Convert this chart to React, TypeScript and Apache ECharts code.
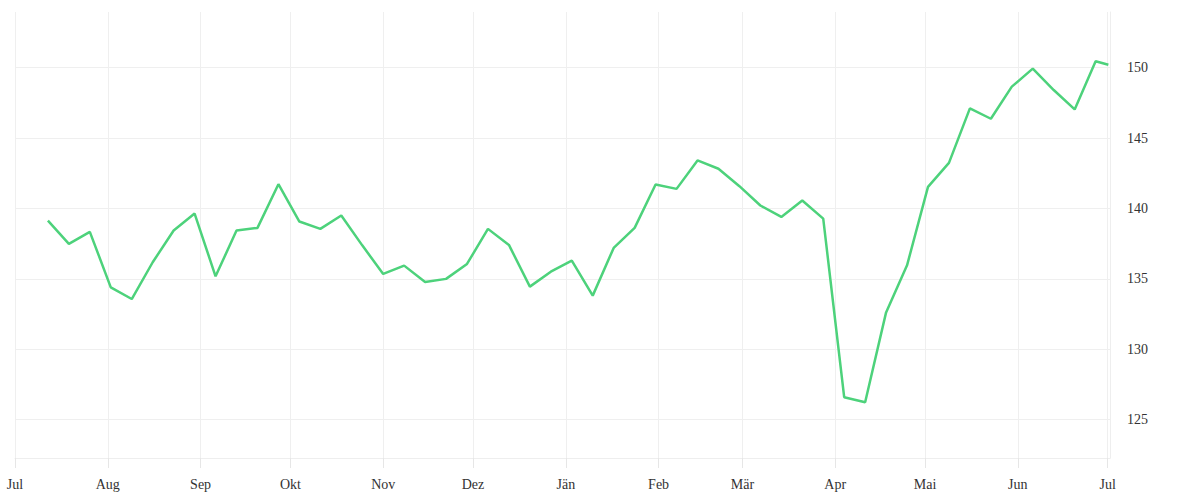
import React, { useEffect, useRef } from "react";
import * as echarts from "echarts";

const startDate = "2022-07-12";
const values: number[] = [
  139.14, 137.48, 138.34, 134.4, 133.57, 136.18, 138.43, 139.64, 135.18, 138.43,
  138.62, 141.72, 139.07, 138.55, 139.5, 137.38, 135.35, 135.94, 134.78, 135.0,
  136.06, 138.55, 137.41, 134.45, 135.51, 136.29, 133.81, 137.2, 138.62, 141.7,
  141.39, 143.41, 142.82, 141.58, 140.21, 139.4, 140.56, 139.28, 126.6, 126.24,
  132.62, 135.96, 141.53, 143.24, 147.11, 146.37, 148.65, 149.93, 148.41, 147.03,
  150.45,
];
const lastDate = "2023-07-01";
const lastValue = 150.21;

const monthTicks: string[] = [
  "2022-07-01", "2022-08-01", "2022-09-01", "2022-10-01", "2022-11-01", "2022-12-01",
  "2023-01-01", "2023-02-01", "2023-03-01", "2023-04-01", "2023-05-01", "2023-06-01",
  "2023-07-01",
];
const monthNames: string[] = ["Jän", "Feb", "Mär", "Apr", "Mai", "Jun", "Jul", "Aug", "Sep", "Okt", "Nov", "Dez"];
const yTicks: number[] = [125, 130, 135, 140, 145, 150];

const DAY = 86400000;

function toTs(s: string): number {
  const [y, m, d] = s.split("-").map(Number);
  return Date.UTC(y, m - 1, d);
}

function buildData(): [number, number][] {
  const t0 = toTs(startDate);
  const pts: [number, number][] = values.map((v, i) => [t0 + i * 7 * DAY, v]);
  pts.push([toTs(lastDate) + 0.25 * DAY, lastValue]);
  return pts;
}

export default function App() {
  const ref = useRef<HTMLDivElement>(null);
  useEffect(() => {
    if (!ref.current) return;
    const chart = echarts.init(ref.current, undefined, { renderer: "svg" });
    const font = "Liberation Serif";
    const tickTs = monthTicks.map(toTs);
    chart.setOption({
      animation: false,
      grid: { left: 15, right: 90, top: 12, bottom: 42, containLabel: false },
      xAxis: {
        type: "value",
        min: toTs("2022-07-01"),
        max: toTs("2023-07-01") + 0.8 * DAY,
        axisLine: { show: true, lineStyle: { color: "#eeeeee", width: 1 } },
        axisTick: { show: true, length: 10, customValues: tickTs, lineStyle: { color: "#e6e6e6" } },
        splitLine: { show: true, lineStyle: { color: "#efefef", width: 1 } },
        axisLabel: {
          customValues: tickTs,
          margin: 19,
          color: "#333",
          fontFamily: font,
          fontSize: 14,
          formatter: (v: number) => monthNames[new Date(v).getUTCMonth()],
          showMinLabel: true,
          showMaxLabel: true,
        },
      },
      yAxis: {
        type: "value",
        position: "right",
        min: 122.28,
        max: 153.95,
        axisLine: { show: true, lineStyle: { color: "#eeeeee", width: 1 } },
        axisTick: { show: false, customValues: yTicks },
        splitLine: { show: true, lineStyle: { color: "#efefef", width: 1 } },
        axisLabel: {
          customValues: yTicks,
          margin: 17,
          color: "#333",
          fontFamily: font,
          fontSize: 14,
          showMinLabel: true,
          showMaxLabel: true,
        },
      },
      series: [
        {
          type: "line",
          data: buildData(),
          showSymbol: false,
          symbol: "none",
          lineStyle: { color: "#4dd27b", width: 2.5 },
          itemStyle: { color: "#4dd27b" },
        },
      ],
    });
    return () => chart.dispose();
  }, []);
  return (
    <div
      ref={ref}
      style={{ position: "absolute", left: 0, top: 0, width: 1200, height: 500 }}
    />
  );
}
